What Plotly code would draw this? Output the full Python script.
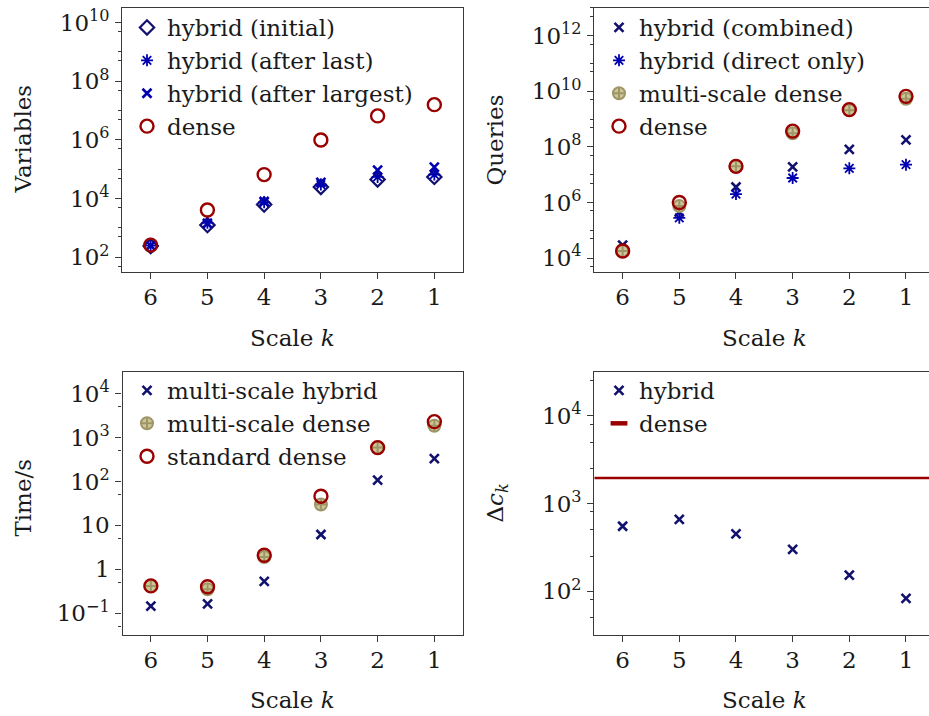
import plotly.graph_objects as go

# ---------------- data ----------------
scales = [6, 5, 4, 3, 2, 1]

# number of variables per scale
vars_initial = [240, 1250, 6300, 25000, 45000, 55000]
vars_after_last = [250, 1500, 7500, 30000, 55000, 66000]
vars_after_largest = [250, 1400, 8000, 36000, 94000, 118000]
vars_dense = [260, 4100, 66000, 1.0e6, 6.6e6, 1.6e7]

# number of queries per scale
queries_combined = [2.9e4, 4.5e5, 3.6e6, 1.9e7, 8.1e7, 1.8e8]
queries_direct = [2.0e4, 2.8e5, 2.0e6, 7.6e6, 1.7e7, 2.3e7]
queries_ms_dense = [1.8e4, 7.4e5, 2.0e7, 3.1e8, 2.1e9, 5.4e9]
queries_dense = [1.8e4, 1.0e6, 2.0e7, 3.7e8, 2.2e9, 6.6e9]

# run time in seconds per scale
time_ms_hybrid = [0.145, 0.163, 0.53, 6.2, 107, 330]
time_ms_dense = [0.42, 0.35, 1.9, 30, 590, 1850]
time_std_dense = [0.42, 0.40, 2.1, 46, 590, 2300]

# cost gap per scale
delta_hybrid = [550, 660, 450, 300, 153, 83]
delta_dense = 1950

# tick labels
p1_ticks = [1e2, 1e4, 1e6, 1e8, 1e10]
p1_labels = ["10<sup>2</sup>", "10<sup>4</sup>", "10<sup>6</sup>", "10<sup>8</sup>", "10<sup>10</sup>"]
p2_ticks = [1e4, 1e6, 1e8, 1e10, 1e12]
p2_labels = ["10<sup>4</sup>", "10<sup>6</sup>", "10<sup>8</sup>", "10<sup>10</sup>", "10<sup>12</sup>"]
p3_ticks = [0.1, 1, 10, 100, 1000, 10000]
p3_labels = ["10<sup>\u22121</sup>", "1", "10", "10<sup>2</sup>", "10<sup>3</sup>", "10<sup>4</sup>"]
p4_ticks = [1e2, 1e3, 1e4]
p4_labels = ["10<sup>2</sup>", "10<sup>3</sup>", "10<sup>4</sup>"]

# ---------------- styling ----------------
W, H = 929, 716
FONT = "DejaVu Serif"
FS = 23
INK = "#1a1a1a"
AXC = "#3a3a3a"
NAVY = "#12126e"
BLUE = "#0000b0"
RED = "#9a0000"
OLIVE_LINE = "#9e9666"
OLIVE_FILL = "#cdc698"


def px_x(v):
    return v / W


def px_y(v):
    return 1 - v / H


# panel boxes in pixels: left, right, top, bottom
boxes = {
    1: (122.3, 462.7, 6.0, 270.7),
    2: (594.3, 929.0, 6.0, 270.7),
    3: (122.5, 462.7, 370.7, 635.0),
    4: (594.3, 929.0, 370.7, 635.0),
}
x_ranges = {1: [6.5, 0.5], 2: [6.5, 0.594], 3: [6.5, 0.5], 4: [6.5, 0.594]}
y_ranges = {1: [1.5, 10.5], 2: [3.5, 13.0], 3: [-1.5, 4.5], 4: [1.5, 4.5]}
y_ticks = {1: (p1_ticks, p1_labels), 2: (p2_ticks, p2_labels),
           3: (p3_ticks, p3_labels), 4: (p4_ticks, p4_labels)}


def minor_vals(lo, hi, mults, odd_decades=False):
    vals = []
    for e in range(int(lo) - 1, int(hi) + 2):
        for m in mults:
            vals.append(m * 10.0 ** e)
        if odd_decades and e % 2 == 1:
            vals.append(10.0 ** e)
    return [v for v in vals if 10 ** lo <= v <= 10 ** hi]


y_minor = {
    1: minor_vals(1.5, 10.5, [5], odd_decades=True),
    2: minor_vals(3.5, 13.0, [5], odd_decades=True),
    3: minor_vals(-1.5, 4.5, [5]),
    4: minor_vals(1.5, 4.5, [2.5, 5, 8]),
}

fig = go.Figure()

legend_names = {1: "legend", 2: "legend2", 3: "legend3", 4: "legend4"}


def add(panel, y, name, symbol, color, size, lw, fill=None, show=True):
    sfx = "" if panel == 1 else str(panel)
    fig.add_trace(go.Scatter(
        x=scales, y=y, name=name, mode="markers",
        xaxis="x" + sfx, yaxis="y" + sfx,
        legend=legend_names[panel], showlegend=show,
        marker=dict(symbol=symbol, size=size,
                    color=fill if fill else color,
                    line=dict(color=color, width=lw)),
        cliponaxis=False,
    ))


# panel 1: variables
add(1, vars_initial, "hybrid (initial)", "diamond-open", NAVY, 11, 2.2)
add(1, vars_after_last, "hybrid (after last)", "asterisk-open", BLUE, 10, 1.8)
add(1, vars_after_largest, "hybrid (after largest)", "x-thin-open", BLUE, 9, 2.6)
add(1, vars_dense, "dense", "circle-open", RED, 13, 2.4)

# panel 2: queries
add(2, queries_combined, "hybrid (combined)", "x-thin-open", NAVY, 9, 2.6)
add(2, queries_direct, "hybrid (direct only)", "asterisk-open", BLUE, 10, 1.8)
add(2, queries_ms_dense, "multi-scale dense", "circle-cross", OLIVE_LINE, 12, 2.0, fill=OLIVE_FILL)
add(2, queries_dense, "dense", "circle-open", RED, 13, 2.4)

# panel 3: time
add(3, time_ms_hybrid, "multi-scale hybrid", "x-thin-open", NAVY, 9, 2.6)
add(3, time_ms_dense, "multi-scale dense", "circle-cross", OLIVE_LINE, 12, 2.0, fill=OLIVE_FILL)
add(3, time_std_dense, "standard dense", "circle-open", RED, 13, 2.4)

# panel 4: cost gap
add(4, delta_hybrid, "hybrid", "x-thin-open", NAVY, 9, 2.6)
fig.add_trace(go.Scatter(
    x=[x_ranges[4][0], x_ranges[4][1]], y=[delta_dense, delta_dense],
    mode="lines", line=dict(color=RED, width=2.6), showlegend=False,
    xaxis="x4", yaxis="y4", hoverinfo="skip",
))
fig.add_trace(go.Scatter(
    x=[None], y=[None], name="dense", mode="markers",
    xaxis="x4", yaxis="y4", legend="legend4",
    marker=dict(symbol="line-ew-open", size=12, color=RED,
                line=dict(color=RED, width=4.5)),
))

layout = dict(
    width=W, height=H,
    margin=dict(l=0, r=0, t=0, b=0),
    paper_bgcolor="white", plot_bgcolor="white",
    font=dict(family=FONT, size=FS, color=INK),
    showlegend=True,
)

tickfont = dict(family=FONT, size=FS, color=INK)

for p in range(1, 5):
    l, r, t, b = boxes[p]
    xd = [px_x(l), min(1.0, px_x(r))]
    yd = [px_y(b), px_y(t)]
    sfx = "" if p == 1 else str(p)
    ov = str(p + 4)
    cut = p in (2, 4)
    tv, tt = y_ticks[p]

    layout["xaxis" + sfx] = dict(
        domain=xd, range=x_ranges[p], anchor="y" + sfx,
        tickmode="array", tickvals=scales, ticktext=[str(s) for s in scales],
        ticks="outside", ticklen=6, tickwidth=1.1, tickcolor=AXC,
        showline=True, linecolor=AXC, linewidth=1.3, mirror=True,
        showgrid=False, zeroline=False, tickfont=tickfont,
        ticklabelstandoff=-2,
    )
    layout["xaxis" + ov] = dict(
        domain=xd, range=x_ranges[p], anchor="y" + sfx, overlaying="x" + sfx,
        tickmode="array", tickvals=scales, showticklabels=False,
        ticks="inside", ticklen=6, tickwidth=1.1, tickcolor=AXC,
        mirror="ticks", showline=False, showgrid=False, zeroline=False,
    )
    layout["yaxis" + sfx] = dict(
        domain=yd, range=y_ranges[p], type="log", anchor="x" + sfx,
        tickmode="array", tickvals=tv, ticktext=tt,
        ticks="outside", ticklen=6, tickwidth=1.1, tickcolor=AXC,
        minor=dict(tickvals=y_minor[p], ticks="outside", ticklen=3,
                   tickwidth=1.0, tickcolor=AXC, showgrid=False),
        showline=True, linecolor=AXC, linewidth=1.3, mirror=(not cut),
        showgrid=False, zeroline=False, tickfont=tickfont,
        ticklabelstandoff=1,
    )
    layout["yaxis" + ov] = dict(
        domain=yd, range=y_ranges[p], type="log", anchor="x" + sfx,
        overlaying="y" + sfx,
        tickmode="array", tickvals=tv, showticklabels=False,
        ticks="inside", ticklen=6, tickwidth=1.1, tickcolor=AXC,
        minor=dict(tickvals=y_minor[p], ticks="inside", ticklen=3,
                   tickwidth=1.0, tickcolor=AXC, showgrid=False),
        mirror=("ticks" if not cut else False),
        showline=False, showgrid=False, zeroline=False,
    )

# legends, one per panel
legend_pos = {1: (127, 4), 2: (599, 4), 3: (127, 368), 4: (599, 368)}
for p, name in legend_names.items():
    lx, ly = legend_pos[p]
    layout[name] = dict(
        x=px_x(lx), y=px_y(ly), xanchor="left", yanchor="top",
        bgcolor="rgba(0,0,0,0)", borderwidth=0,
        font=dict(family=FONT, size=FS, color=INK),
        tracegroupgap=0, itemsizing="trace",
    )

# axis titles
titles = [
    ("Variables", 23, 138, -90),
    ("Queries", 495, 138, -90),
    ("Time/s", 23, 497, -90),
    ("\u0394<i>c</i><sub><i>k</i></sub>", 497, 503, -90),
    ("Scale <i>k</i>", 292.5, 337, 0),
    ("Scale <i>k</i>", 764, 337, 0),
    ("Scale <i>k</i>", 292.5, 700, 0),
    ("Scale <i>k</i>", 764, 700, 0),
]
annotations = []
for text, ax_, ay_, ang in titles:
    annotations.append(dict(
        text=text, x=px_x(ax_), y=px_y(ay_), xref="paper", yref="paper",
        xanchor="center", yanchor="middle", showarrow=False, textangle=ang,
        font=dict(family=FONT, size=FS, color=INK),
    ))
layout["annotations"] = annotations

fig.update_layout(**layout)
fig.write_html("out.html")
